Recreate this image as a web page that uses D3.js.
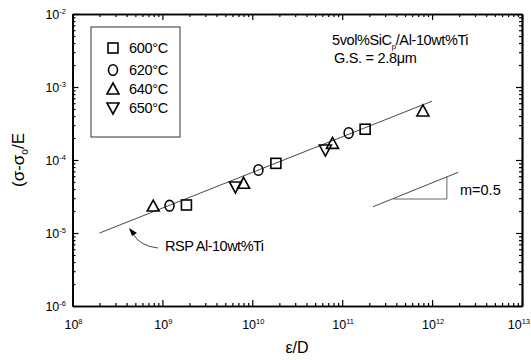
<!DOCTYPE html>
<html><head><meta charset="utf-8">
<script src="https://cdn.jsdelivr.net/npm/d3@7"></script>
<style>
body{margin:0;background:#fff;}
svg{display:block;font-family:"Liberation Sans",Arial,sans-serif;}
</style></head>
<body>
<svg id="c" width="531" height="360"></svg>
<script>
// ---- data ----
const temps = ["600°C","620°C","640°C","650°C"];
const shapes = ["square","circle","triangle","invtriangle"];
const s600x = [1.85e9, 1.83e10, 1.8e11];
const s600y = [2.42e-5, 9.0e-5, 2.64e-4];
const s620x = [1.2e9, 1.17e10, 1.18e11];
const s620y = [2.37e-5, 7.3e-5, 2.34e-4];
const s640x = [7.9e8, 8.0e9, 7.8e10, 7.9e11];
const s640y = [2.34e-5, 4.8e-5, 1.69e-4, 4.7e-4];
const s650x = [6.5e9, 6.5e10];
const s650y = [4.27e-5, 1.37e-4];
const fitX = [2.0e8, 1.0e12];
const fitY = [1.0e-5, 6.4e-4];
const slopeLineX = [2.2e11, 1.96e12];
const slopeLineY = [2.29e-5, 6.8e-5];
const slopeLegX = [3.7e11, 1.46e12, 1.46e12];
const slopeLegY = [2.92e-5, 2.92e-5, 5.85e-5];
const xTicks = [1e8,1e9,1e10,1e11,1e12,1e13];
const xExp = ["8","9","10","11","12","13"];
const yTicks = [1e-6,1e-5,1e-4,1e-3,1e-2];
const yExp = ["-6","-5","-4","-3","-2"];

const svg = d3.select("#c");
const x = d3.scaleLog().domain([1e8,1e13]).range([72.5,522]);
const y = d3.scaleLog().domain([1e-6,1e-2]).range([306,14]);

function minors(lo, hi){ const a=[]; for(let e=lo;e<hi;e++) for(let k=2;k<10;k++) a.push(k*Math.pow(10,e)); return a; }
const xMin = minors(8,13), yMin = minors(-6,-2);

const ax = svg.append("g").attr("class","axes");
function drawAxis(axisFn, scale, tr, vals, size){
  const g = ax.append("g").attr("transform",tr)
    .call(axisFn(scale).tickValues(vals).tickSizeInner(size).tickSizeOuter(0).tickFormat(""));
  g.select(".domain").attr("stroke","#000").attr("stroke-width",1.7);
  g.selectAll(".tick line").attr("stroke","#000").attr("stroke-width",1.2);
  return g;
}
drawAxis(d3.axisBottom, x, "translate(0,306)", xTicks, -6);
drawAxis(d3.axisBottom, x, "translate(0,306)", xMin, -3);
drawAxis(d3.axisTop, x, "translate(0,14)", xTicks, -6);
drawAxis(d3.axisTop, x, "translate(0,14)", xMin, -3);
drawAxis(d3.axisLeft, y, "translate(72.5,0)", yTicks, -6);
drawAxis(d3.axisLeft, y, "translate(72.5,0)", yMin, -3);
drawAxis(d3.axisRight, y, "translate(522,0)", yTicks, -6);
drawAxis(d3.axisRight, y, "translate(522,0)", yMin, -3);

// tick labels
const xl = svg.append("g").selectAll("text").data(xTicks).join("text")
  .attr("x", (d,i)=> i===xTicks.length-1 ? 530 : x(d)+1)
  .attr("y",329)
  .attr("text-anchor",(d,i)=> i===xTicks.length-1 ? "end" : "middle")
  .attr("font-size",12.5).attr("fill","#000");
xl.append("tspan").text("10");
xl.append("tspan").attr("font-size",7.5).attr("dy",-5).text((d,i)=>xExp[i]);

const yl = svg.append("g").selectAll("text").data(yTicks).join("text")
  .attr("x", 66).attr("y",d=>y(d)+4.5).attr("text-anchor","end")
  .attr("font-size",12.5).attr("fill","#000");
yl.append("tspan").text("10");
yl.append("tspan").attr("font-size",7.5).attr("dy",-5).text((d,i)=>yExp[i]);

// axis titles
svg.append("text").attr("x",297).attr("y",353).attr("text-anchor","middle")
  .attr("font-size",16).text("ε/D");
const yt = svg.append("text").attr("transform","translate(24,160) rotate(-90)")
  .attr("text-anchor","middle").attr("font-size",17);
yt.append("tspan").text("(σ-σ");
yt.append("tspan").attr("font-size",10).attr("dy",4).text("o");
yt.append("tspan").attr("dy",-4).text("/E");

// fit line
const line = d3.line().x(d=>x(d[0])).y(d=>y(d[1]));
svg.append("path").attr("d",line(d3.zip(fitX,fitY))).attr("fill","none")
  .attr("stroke","#333").attr("stroke-width",0.9);

// slope triangle
svg.append("path").attr("d",line(d3.zip(slopeLineX,slopeLineY))).attr("fill","none")
  .attr("stroke","#333").attr("stroke-width",0.9);
svg.append("path").attr("d",line(d3.zip(slopeLegX,slopeLegY))).attr("fill","none")
  .attr("stroke","#555").attr("stroke-width",0.9);
svg.append("text").attr("x",460).attr("y",195).attr("font-size",14.5).text("m=0.5");

// annotations
svg.append("text").attr("x",332).attr("y",45).attr("font-size",14.5).attr("letter-spacing",-0.4)
  .call(t=>{t.append("tspan").text("5vol%SiC");t.append("tspan").attr("font-size",8).attr("dy",4).text("p");t.append("tspan").attr("dy",-4).text("/Al-10wt%Ti");});
svg.append("text").attr("x",334).attr("y",63).attr("font-size",14.5).attr("letter-spacing",-0.3).text("G.S. = 2.8μm");
svg.append("text").attr("x",165).attr("y",251).attr("font-size",14.5).attr("letter-spacing",-0.5).text("RSP Al-10wt%Ti");
svg.append("path").attr("d","M158,248 Q140,246 133,234").attr("fill","none").attr("stroke","#333").attr("stroke-width",0.9);
svg.append("path").attr("d","M129,228 L137,233 L132,236 Z").attr("fill","#000");

// markers
function marker(g, shape, cx, cy){
  if(shape==="square") g.append("rect").attr("x",cx-5).attr("y",cy-5).attr("width",10).attr("height",10);
  else if(shape==="circle") g.append("ellipse").attr("cx",cx).attr("cy",cy).attr("rx",4.5).attr("ry",5.3);
  else if(shape==="triangle") g.append("path").attr("d",`M${cx},${cy-6}L${cx+6},${cy+5}L${cx-6},${cy+5}Z`);
  else g.append("path").attr("d",`M${cx},${cy+6}L${cx+6},${cy-5}L${cx-6},${cy-5}Z`);
}
const series = [[s600x,s600y],[s620x,s620y],[s640x,s640y],[s650x,s650y]];
const mg = svg.append("g").attr("fill","none").attr("stroke","#000").attr("stroke-width",1.6);
series.forEach((s,i)=>{ s[0].forEach((xv,j)=>marker(mg, shapes[i], x(xv), y(s[1][j]))); });

// legend
svg.append("rect").attr("x",91).attr("y",27).attr("width",89).attr("height",110)
  .attr("fill","none").attr("stroke","#333").attr("stroke-width",1);
const rowY = [48,70,89,108];
temps.forEach((t,i)=>{
  marker(mg, shapes[i], 113, rowY[i]);
  svg.append("text").attr("x",129).attr("y",rowY[i]+5).attr("font-size",14.5).attr("letter-spacing",-0.3).text(t);
});
</script>
</body></html>
